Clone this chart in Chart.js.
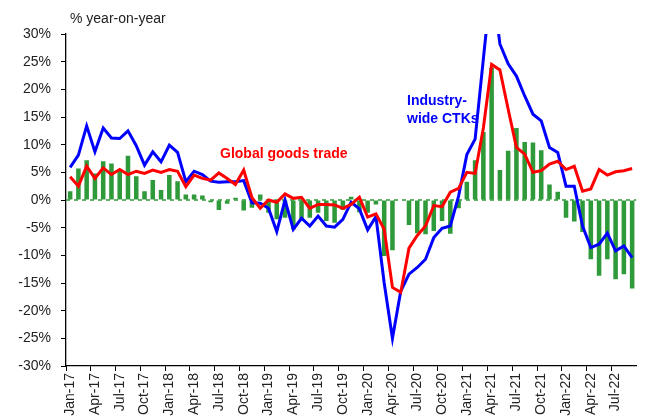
<!DOCTYPE html>
<html>
<head>
<meta charset="utf-8">
<script src="https://cdn.jsdelivr.net/npm/chart.js@4"></script>
<style>
  html, body { margin: 0; padding: 0; background: #fff; }
  #wrap { width: 651px; height: 418px; }
</style>
</head>
<body>
<div id="wrap"><canvas id="chart" width="651" height="418"></canvas></div>
<script>
// months Jan-17 .. Sep-22
const months = [
  'Jan-17','Feb-17','Mar-17','Apr-17','May-17','Jun-17','Jul-17','Aug-17','Sep-17','Oct-17','Nov-17','Dec-17',
  'Jan-18','Feb-18','Mar-18','Apr-18','May-18','Jun-18','Jul-18','Aug-18','Sep-18','Oct-18','Nov-18','Dec-18',
  'Jan-19','Feb-19','Mar-19','Apr-19','May-19','Jun-19','Jul-19','Aug-19','Sep-19','Oct-19','Nov-19','Dec-19',
  'Jan-20','Feb-20','Mar-20','Apr-20','May-20','Jun-20','Jul-20','Aug-20','Sep-20','Oct-20','Nov-20','Dec-20',
  'Jan-21','Feb-21','Mar-21','Apr-21','May-21','Jun-21','Jul-21','Aug-21','Sep-21','Oct-21','Nov-21','Dec-21',
  'Jan-22','Feb-22','Mar-22','Apr-22','May-22','Jun-22','Jul-22','Aug-22','Sep-22'
];

// green bars (no legend in the original)
const barValues = [
  1.6, 5.7, 7.2, 4.8, 7.0, 6.6, 5.5, 8.0, 4.3, 1.6, 3.6, 1.8,
  4.5, 3.4, 1.0, 1.0, 0.8, -0.4, -1.8, -0.7, 0.4, -1.9, -1.4, 1.0,
  -2.3, -3.5, -3.2, -5.3, -3.8, -3.2, -2.3, -3.8, -4.1, -1.8, 0.6, -2.2,
  -2.3, -0.8, -10.1, -9.1, 0, -4.5, -6.0, -6.2, -5.6, -3.8, -6.1, -1.5,
  3.3, 7.2, 12.3, 23.9, 5.4, 8.9, 13.0, 10.5, 10.4, 9.0, 2.8, 1.5,
  -3.2, -3.9, -5.8, -10.7, -13.7, -10.7, -14.3, -13.4, -16.0
];

// Industry-wide CTKs (blue)
const ctkValues = [
  5.9, 8.1, 13.4, 8.7, 13.0, 11.2, 11.1, 12.5, 9.8, 6.3, 8.7, 6.9,
  9.9, 8.6, 3.3, 5.2, 4.6, 3.4, 3.2, 3.3, 3.3, 3.5, -0.5, -0.6,
  -1.5, -5.7, 0.0, -5.3, -3.3, -4.7, -2.9, -4.7, -4.9, -3.5, -0.4, -1.6,
  -5.4, -3.0, -15.0, -25.0, -16.5, -13.4, -12.2, -10.7, -6.8, -5.1, -4.7, 0.7,
  8.2, 11.0, 25.5, 40.0, 28.2, 24.6, 22.4, 18.8, 15.5, 14.3, 9.5, 8.6,
  2.5, 2.5, -4.7, -8.6, -8.0, -6.0, -9.2, -8.3, -10.4
];

// Global goods trade (red)
const tradeValues = [
  4.2, 2.5, 6.1, 3.9, 5.8, 4.6, 5.5, 4.6, 5.2, 4.8, 5.4, 5.0,
  5.5, 5.2, 2.4, 4.5, 3.9, 3.6, 4.9, 3.9, 2.8, 5.4, 0.4, -1.5,
  0.0, -0.4, 1.1, 0.3, 0.5, -1.5, -0.8, -0.8, -0.9, -1.5, -0.8, 0.5,
  -3.1, -2.5, -5.3, -15.8, -16.7, -8.7, -6.4, -4.7, -1.0, -1.2, 1.4, 2.1,
  5.0, 4.8, 13.0, 24.5, 23.5, 16.4, 9.5, 8.3, 5.0, 5.3, 6.5, 7.0,
  5.5, 6.1, 1.6, 2.0, 5.5, 4.5, 5.1, 5.3, 5.7
];

const FONT = '"Liberation Sans", Arial, sans-serif';
const GREEN = '#2f9a3a';

// dashed green zero line + text labels
const extras = {
  id: 'extras',
  beforeDatasetsDraw(chart) {
    const { ctx, chartArea } = chart;
    const y0 = chart.scales.y.getPixelForValue(0);
    ctx.save();
    ctx.strokeStyle = GREEN;
    ctx.lineWidth = 1.5;
    ctx.setLineDash([4, 4]);
    ctx.beginPath();
    ctx.moveTo(chartArea.left, y0);
    ctx.lineTo(chartArea.right, y0);
    ctx.stroke();
    ctx.restore();
  },
  afterDraw(chart) {
    const ctx = chart.ctx;
    ctx.save();
    ctx.textBaseline = 'middle';
    ctx.textAlign = 'left';
    ctx.fillStyle = '#222';
    ctx.font = '14px ' + FONT;
    ctx.fillText('% year-on-year', 70, 19);
    ctx.font = 'bold 14px ' + FONT;
    ctx.fillStyle = '#ff0000';
    ctx.fillText('Global goods trade', 220, 154);
    ctx.fillStyle = '#0000ff';
    ctx.fillText('Industry-', 407, 101);
    ctx.fillText('wide CTKs', 407, 119);
    ctx.restore();
  }
};

new Chart(document.getElementById('chart'), {
  type: 'bar',
  data: {
    labels: months,
    datasets: [
      {
        type: 'line',
        label: 'Global goods trade',
        data: tradeValues,
        borderColor: '#ff0000',
        borderWidth: 3,
        pointRadius: 0,
        tension: 0,
        order: 1,
        clip: { left: 5, right: 5, top: 0, bottom: 5 }
      },
      {
        type: 'line',
        label: 'Industry-wide CTKs',
        data: ctkValues,
        borderColor: '#0000ff',
        borderWidth: 3,
        pointRadius: 0,
        tension: 0,
        order: 2,
        clip: { left: 5, right: 5, top: 0, bottom: 5 }
      },
      {
        label: 'bars',
        data: barValues,
        backgroundColor: GREEN,
        barPercentage: 0.55,
        categoryPercentage: 1,
        order: 3
      }
    ]
  },
  options: {
    responsive: false,
    animation: false,
    devicePixelRatio: 1,
    layout: { padding: { top: 34, right: 9, left: 0, bottom: 0 } },
    plugins: {
      legend: { display: false },
      tooltip: { enabled: false }
    },
    scales: {
      x: {
        offset: true,
        afterFit: (scale) => { scale.height = 52; },
        grid: {
          offset: true,
          drawOnChartArea: false,
          tickLength: 5,
          color: (ctx) => (ctx.index % 3 === 0 ? '#000' : 'rgba(0,0,0,0)')
        },
        border: { color: '#000', width: 1.3 },
        ticks: {
          autoSkip: false,
          maxRotation: 90,
          minRotation: 90,
          padding: 2,
          color: '#222',
          font: { family: FONT, size: 14 },
          callback: function (value, index) {
            return index % 3 === 0 ? this.getLabelForValue(value) : '';
          }
        }
      },
      y: {
        min: -30,
        max: 30,
        afterFit: (scale) => { scale.width = 66; },
        grid: {
          drawOnChartArea: false,
          tickLength: 5,
          color: '#000'
        },
        border: { color: '#000', width: 1.3 },
        ticks: {
          stepSize: 5,
          padding: 10,
          color: '#222',
          font: { family: FONT, size: 14 },
          callback: (v) => v + '%'
        }
      }
    }
  },
  plugins: [extras]
});
</script>
</body>
</html>
